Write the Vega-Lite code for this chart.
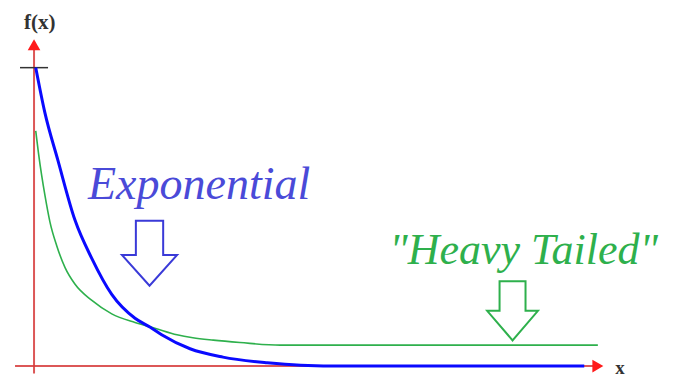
{
  "$schema": "https://vega.github.io/schema/vega-lite/v6.json",
  "width": 675,
  "height": 378,
  "autosize": {"type": "fit", "contains": "padding"},
  "padding": 0,
  "background": "white",
  "config": {"view": {"stroke": null}},
  "datasets": {
    "exp": [
      {"x": 0.03, "y": 1.0},
      {"x": 0.19, "y": 0.85},
      {"x": 0.42, "y": 0.69},
      {"x": 0.72, "y": 0.49},
      {"x": 1.02, "y": 0.36},
      {"x": 1.37, "y": 0.24},
      {"x": 1.78, "y": 0.16},
      {"x": 2.05, "y": 0.13},
      {"x": 2.25, "y": 0.105},
      {"x": 2.75, "y": 0.058},
      {"x": 3.33, "y": 0.03},
      {"x": 4.11, "y": 0.011},
      {"x": 4.7, "y": 0.003},
      {"x": 5.5, "y": 0.0},
      {"x": 9.7, "y": 0.0}
    ],
    "heavy": [
      {"x": 0.03, "y": 0.788},
      {"x": 0.076, "y": 0.717},
      {"x": 0.136, "y": 0.637},
      {"x": 0.194, "y": 0.57},
      {"x": 0.28, "y": 0.483},
      {"x": 0.4, "y": 0.403},
      {"x": 0.547, "y": 0.33},
      {"x": 0.72, "y": 0.275},
      {"x": 1.02, "y": 0.22},
      {"x": 1.37, "y": 0.175},
      {"x": 1.78, "y": 0.146},
      {"x": 2.13, "y": 0.127},
      {"x": 2.52, "y": 0.105},
      {"x": 2.8, "y": 0.095},
      {"x": 3.16, "y": 0.087},
      {"x": 3.63, "y": 0.079},
      {"x": 4.34, "y": 0.07},
      {"x": 9.94, "y": 0.07}
    ],
    "axes": [
      {"x": 0, "x2": 0, "y": -0.025, "y2": 1.06},
      {"x": -0.335, "x2": 9.9, "y": 0, "y2": 0}
    ]
  },
  "layer": [
    {
      "data": {"name": "axes"},
      "mark": {"type": "rule", "color": "#d63a3a", "strokeWidth": 2, "opacity": 0.85},
      "encoding": {
        "x": {"field": "x", "type": "quantitative", "scale": {"domain": [-0.6, 11.3], "nice": false, "zero": false}, "axis": null},
        "x2": {"field": "x2"},
        "y": {"field": "y", "type": "quantitative", "scale": {"domain": [-0.0333, 1.2267], "nice": false, "zero": false}, "axis": null},
        "y2": {"field": "y2"}
      }
    },
    {
      "data": {"values": [{"x": -0.247, "x2": 0.247, "y": 1.0}]},
      "mark": {"type": "rule", "color": "#333333", "strokeWidth": 1.5},
      "encoding": {
        "x": {"field": "x", "type": "quantitative"},
        "x2": {"field": "x2"},
        "y": {"field": "y", "type": "quantitative"}
      }
    },
    {
      "data": {"values": [{"x": 0, "y": 1.077}]},
      "mark": {"type": "point", "shape": "triangle-up", "filled": true, "color": "#ff1a1a", "size": 160, "opacity": 1},
      "encoding": {
        "x": {"field": "x", "type": "quantitative"},
        "y": {"field": "y", "type": "quantitative"}
      }
    },
    {
      "data": {"values": [{"x": 9.94, "y": 0}]},
      "mark": {"type": "point", "shape": "triangle-right", "filled": true, "color": "#ff1a1a", "size": 160, "opacity": 1},
      "encoding": {
        "x": {"field": "x", "type": "quantitative"},
        "y": {"field": "y", "type": "quantitative"}
      }
    },
    {
      "data": {"name": "heavy"},
      "mark": {"type": "line", "color": "#2eb04c", "strokeWidth": 1.6, "interpolate": "monotone"},
      "encoding": {
        "x": {"field": "x", "type": "quantitative"},
        "y": {"field": "y", "type": "quantitative"}
      }
    },
    {
      "data": {"name": "exp"},
      "mark": {"type": "line", "color": "#0a0aff", "strokeWidth": 3, "interpolate": "monotone"},
      "encoding": {
        "x": {"field": "x", "type": "quantitative"},
        "y": {"field": "y", "type": "quantitative"}
      }
    },
    {
      "data": {"values": [{"x": 2.036, "y": 0.378}]},
      "mark": {"type": "point", "shape": "M -0.42 -1 L 0.42 -1 L 0.42 0.05 L 0.85 0.05 L 0 1 L -0.85 0.05 L -0.42 0.05 Z", "filled": false, "fill": "white", "stroke": "#3a3ad8", "strokeWidth": 2, "size": 4225, "opacity": 1},
      "encoding": {
        "x": {"field": "x", "type": "quantitative"},
        "y": {"field": "y", "type": "quantitative"}
      }
    },
    {
      "data": {"values": [{"x": 8.436, "y": 0.185}]},
      "mark": {"type": "point", "shape": "M -0.44 -1 L 0.44 -1 L 0.44 0 L 0.86 0 L 0 1 L -0.86 0 L -0.44 0 Z", "filled": false, "fill": "white", "stroke": "#2eb04c", "strokeWidth": 2, "size": 3481, "opacity": 1},
      "encoding": {
        "x": {"field": "x", "type": "quantitative"},
        "y": {"field": "y", "type": "quantitative"}
      }
    },
    {
      "data": {"values": [{"x": 0.1, "y": 1.13, "label": "f(x)"}]},
      "mark": {"type": "text", "font": "Liberation Serif", "fontSize": 21, "fontWeight": "bold", "color": "#333333", "baseline": "alphabetic", "align": "center"},
      "encoding": {
        "x": {"field": "x", "type": "quantitative"},
        "y": {"field": "y", "type": "quantitative"},
        "text": {"field": "label"}
      }
    },
    {
      "data": {"values": [{"x": 10.33, "y": -0.025, "label": "x"}]},
      "mark": {"type": "text", "font": "Liberation Serif", "fontSize": 19, "fontWeight": "bold", "color": "#333333", "baseline": "alphabetic", "align": "center"},
      "encoding": {
        "x": {"field": "x", "type": "quantitative"},
        "y": {"field": "y", "type": "quantitative"},
        "text": {"field": "label"}
      }
    },
    {
      "data": {"values": [{"x": 2.91, "y": 0.56, "label": "Exponential"}]},
      "mark": {"type": "text", "font": "Liberation Serif", "fontSize": 46, "fontStyle": "italic", "color": "#4a4ad8", "baseline": "alphabetic", "align": "center"},
      "encoding": {
        "x": {"field": "x", "type": "quantitative"},
        "y": {"field": "y", "type": "quantitative"},
        "text": {"field": "label"}
      }
    },
    {
      "data": {"values": [{"x": 8.63, "y": 0.343, "label": "\"Heavy Tailed\""}]},
      "mark": {"type": "text", "font": "Liberation Serif", "fontSize": 44, "fontStyle": "italic", "color": "#2eb04c", "baseline": "alphabetic", "align": "center"},
      "encoding": {
        "x": {"field": "x", "type": "quantitative"},
        "y": {"field": "y", "type": "quantitative"},
        "text": {"field": "label"}
      }
    }
  ]
}
